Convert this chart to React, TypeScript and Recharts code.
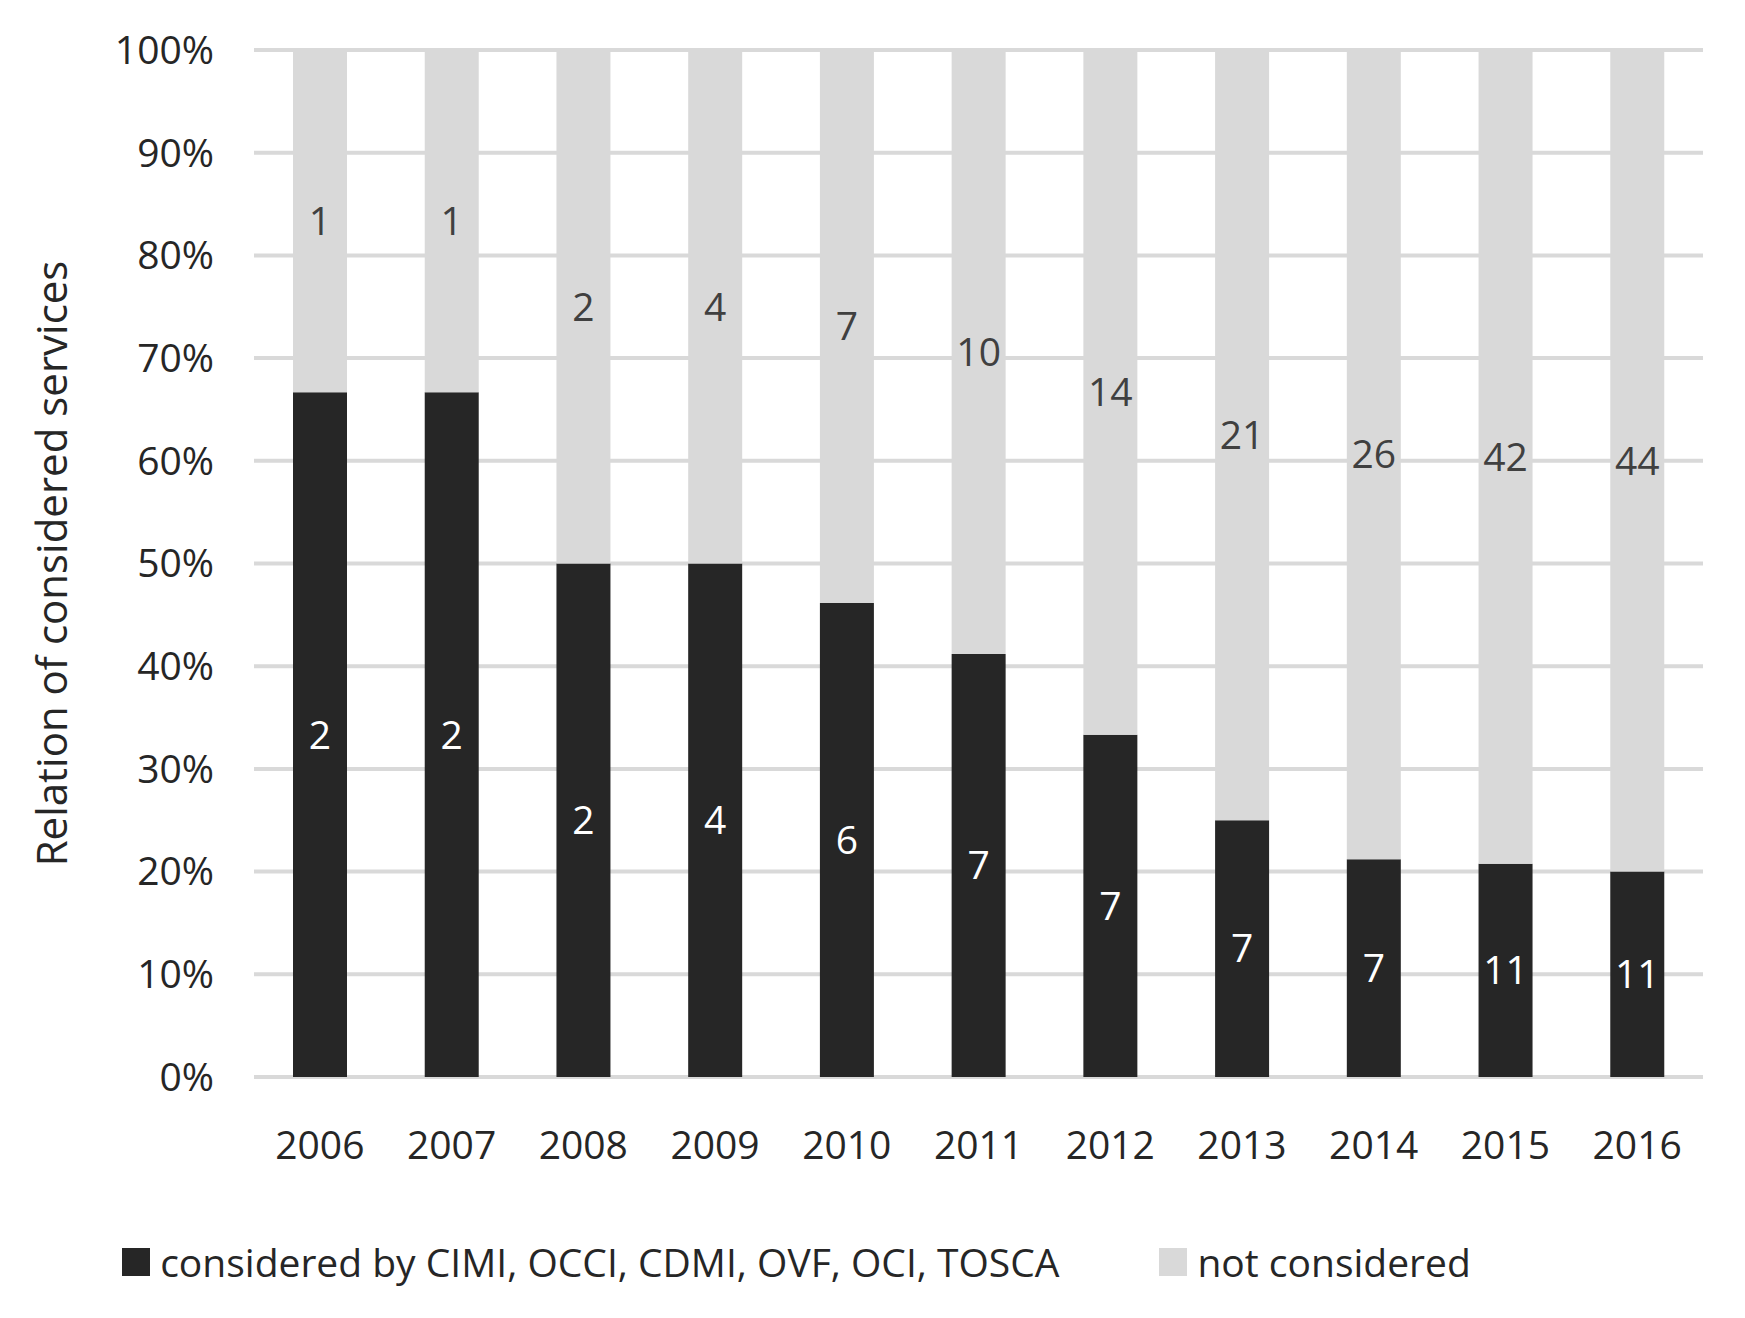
import React from 'react';
import { BarChart, Bar, XAxis, YAxis, CartesianGrid, LabelList, Legend } from 'recharts';

const years = ['2006','2007','2008','2009','2010','2011','2012','2013','2014','2015','2016'];
const considered = [2,2,2,4,6,7,7,7,7,11,11];
const notConsidered = [1,1,2,4,7,10,14,21,26,42,44];
const yTicks = [0,0.1,0.2,0.3,0.4,0.5,0.6,0.7,0.8,0.9,1];

const data = years.map((y,i)=>({year:y, c:considered[i], n:notConsidered[i]}));
const FONT = '"Open Sans", "Noto Sans", sans-serif';

const LegendContent = () => (
  <div style={{display:'flex', justifyContent:'center', gap:100, fontFamily:FONT, fontSize:39, color:'#262626', marginLeft:-110}}>
    <div style={{display:'flex', alignItems:'center'}}>
      <span style={{display:'inline-block', width:28, height:28, background:'#262626', marginRight:10}}/>considered by CIMI, OCCI, CDMI, OVF, OCI, TOSCA
    </div>
    <div style={{display:'flex', alignItems:'center'}}>
      <span style={{display:'inline-block', width:28, height:28, background:'#d9d9d9', marginRight:10}}/>not considered
    </div>
  </div>
);

export default function App() {
  return (
    <div style={{position:'absolute', left:0, top:0, background:'#fff'}}>
      <BarChart width={1745} height={1318} data={data} stackOffset="expand" barSize={54}
        margin={{top:50, right:42, left:0, bottom:0}}>
        <CartesianGrid vertical={false} stroke="#d9d9d9" strokeWidth={4} />
        <XAxis dataKey="year" axisLine={false} tickLine={false} height={188} tickMargin={48}
          tick={{fontSize:39, fill:'#262626', fontFamily:FONT}} />
        <YAxis ticks={yTicks} domain={[0,1]} axisLine={false} tickLine={false} width={254} tickMargin={34}
          tickFormatter={(v:number)=>`${Math.round(v*100)}%`}
          tick={{fontSize:39, fill:'#262626', fontFamily:FONT}}
          label={{value:'Relation of considered services', angle:-90, position:'insideLeft', offset:52,
            style:{fontSize:42, fill:'#262626', fontFamily:FONT, textAnchor:'middle'}}} />
        <Legend verticalAlign="bottom" content={<LegendContent/>} wrapperStyle={{bottom:30}} />
        <Bar dataKey="c" stackId="a" fill="#262626" isAnimationActive={false}>
          <LabelList dataKey="c" position="center" fill="#ffffff" style={{fontSize:39, fontFamily:FONT}} />
        </Bar>
        <Bar dataKey="n" stackId="a" fill="#d9d9d9" isAnimationActive={false}>
          <LabelList dataKey="n" position="center" fill="#404040" style={{fontSize:39, fontFamily:FONT}} />
        </Bar>
      </BarChart>
    </div>
  );
}
